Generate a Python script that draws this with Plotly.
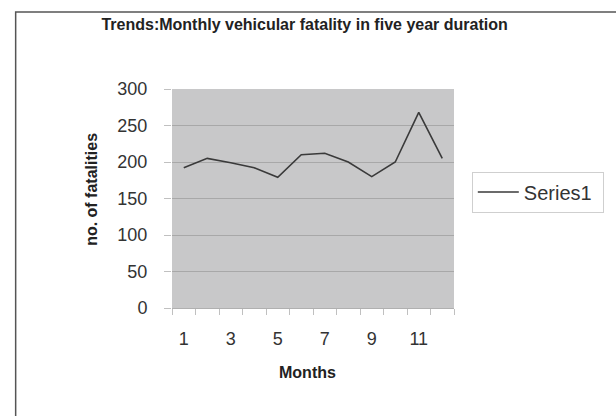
import plotly.graph_objects as go

months = [1, 2, 3, 4, 5, 6, 7, 8, 9, 10, 11, 12]
fatalities = [192, 205, 199, 192, 179, 210, 212, 200, 180, 200, 268, 205]
tick_vals = [1, 3, 5, 7, 9, 11]
y_ticks = [0, 50, 100, 150, 200, 250, 300]

W, H = 616, 416
L, R, T, B = 172, 457, 89, 308
pw, ph = R - L, B - T

def px(x):
    return (x - L) / pw

def py(y):
    return (B - y) / ph

fig = go.Figure()
fig.add_trace(go.Scatter(
    x=months, y=fatalities, mode="lines", name="Series1\u00a0",
    line=dict(color="#3a3a3a", width=1.6),
))

fig.update_layout(
    width=W, height=H,
    margin=dict(l=L, r=W - R, t=T, b=H - B),
    paper_bgcolor="white",
    plot_bgcolor="#c8c8c9",
    font=dict(family="Liberation Sans, Arial", color="#333333"),
    title=dict(text="<b>Trends:Monthly vehicular fatality in five year duration</b>",
               x=px(306), xref="paper", xanchor="center",
               y=1 - 24 / H, yanchor="middle",
               font=dict(size=16, color="#222222")),
    showlegend=True,
    legend=dict(x=px(475), xanchor="left", y=py(192), yanchor="middle",
                bordercolor="#cfcfcf", borderwidth=1, bgcolor="white",
                font=dict(size=20, color="#333333"),
                itemwidth=41),
    xaxis=dict(
        range=[0.5, 12.5], tickmode="array", tickvals=tick_vals,
        ticktext=[str(v) for v in tick_vals],
        showgrid=False, zeroline=False, showline=True, linecolor="#b0b0b0",
        ticks="", ticklen=6, ticklabelstandoff=14,
        tickfont=dict(size=18, color="#333333"),
        minor=dict(tickmode="array", tickvals=[m + 0.5 for m in range(0, 13)],
                   ticks="outside", ticklen=6, tickcolor="#c0c0c0", showgrid=False),
    ),
    yaxis=dict(
        range=[0, 300], tickmode="array", tickvals=y_ticks,
        showgrid=True, gridcolor="#a8a8a8", gridwidth=1.2, zeroline=False,
        showline=False, ticks="outside", ticklen=7, tickcolor="#c0c0c0",
        ticklabelstandoff=13,
        tickfont=dict(size=18, color="#333333"),
    ),
    annotations=[
        dict(text="<b>Months</b>", xref="paper", yref="paper",
             x=px(309), y=py(372), xanchor="center", yanchor="middle",
             showarrow=False, font=dict(size=16, color="#222222")),
        dict(text="<b>no. of fatalities</b>", xref="paper", yref="paper",
             x=px(90), y=py(189), xanchor="center", yanchor="middle",
             textangle=-90, showarrow=False, font=dict(size=16, color="#222222")),
    ],
)

fig.add_shape(type="rect", xref="paper", yref="paper",
              x0=px(14), x1=px(640), y0=py(440), y1=py(12),
              line=dict(color="#555555", width=1.5), fillcolor="rgba(0,0,0,0)", layer="below")

fig.write_html("out.html", config={"displayModeBar": False},
               post_script="document.body.style.margin='0';")
